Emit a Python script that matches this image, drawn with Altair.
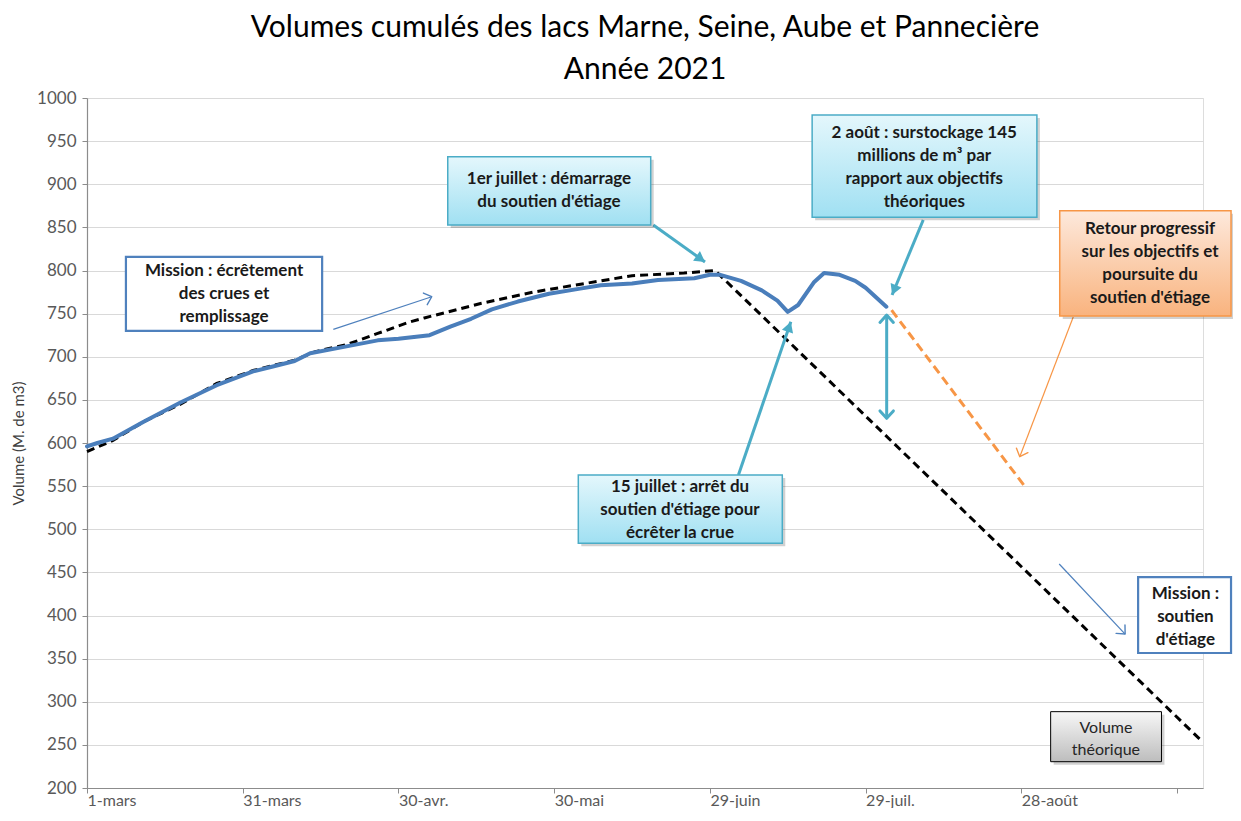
import math
import altair as alt
import pandas as pd

# ---------------- data ----------------
reel_dates = ["2021-03-01", "2021-03-03", "2021-03-06", "2021-03-12", "2021-03-19", "2021-03-26",
              "2021-04-02", "2021-04-06", "2021-04-10", "2021-04-13", "2021-04-20", "2021-04-26",
              "2021-04-30", "2021-05-06", "2021-05-10", "2021-05-14", "2021-05-18", "2021-05-23",
              "2021-05-29", "2021-06-04", "2021-06-08", "2021-06-14", "2021-06-19", "2021-06-26",
              "2021-06-29", "2021-07-01", "2021-07-05", "2021-07-09", "2021-07-12", "2021-07-14",
              "2021-07-16", "2021-07-19", "2021-07-21", "2021-07-24", "2021-07-27", "2021-07-29",
              "2021-08-02"]
reel_values = [596, 600, 605, 625, 647, 667, 683, 689, 695, 704, 712, 719, 721, 725, 735, 744,
               755, 764, 773, 779, 783, 785, 789, 791, 795, 795, 788, 777, 765, 752, 760, 786,
               797, 795, 788, 780, 758]

theo_dates = ["2021-03-01", "2021-03-06", "2021-03-12", "2021-03-19", "2021-03-26", "2021-04-02",
              "2021-04-10", "2021-04-14", "2021-04-20", "2021-04-26", "2021-05-02", "2021-05-05",
              "2021-05-16", "2021-05-26", "2021-06-05", "2021-06-14", "2021-06-24", "2021-06-30",
              "2021-10-02"]
theo_values = [590, 603, 625, 645, 669, 684, 696, 706, 714, 727, 740, 745, 762, 775, 785, 794,
               797, 800, 253]

retour_dates = ["2021-08-03", "2021-08-29"]
retour_values = [754, 547]

tick_dates = ["2021-03-01", "2021-03-31", "2021-04-30", "2021-05-30", "2021-06-29",
              "2021-07-29", "2021-08-28", "2021-09-27"]
y_ticks = list(range(200, 1001, 50))

title_lines = ["Volumes cumulés des lacs Marne, Seine, Aube et Pannecière", "Année 2021"]
y_title = "Volume (M. de m3)"

# annotation boxes: (text, day_x1, day_x2, val_y1, val_y2, day_text, val_text, style)
boxes = [
    ("Mission : écrêtement\ndes crues et\nremplissage", 7.5, 45.3, 729.9, 815.7, 26.4, 772.8, "white"),
    ("1er juillet : démarrage\ndu soutien d'étiage", 69.5, 108.6, 852.8, 932.0, 89.0, 892.5, "cyan"),
    ("2 août  : surstockage 145\nmillions de m³  par\nrapport aux objectifs\nthéoriques",
     139.7, 183.0, 861.7, 980.3, 161.3, 920.0, "cyan"),
    ("Retour progressif\nsur les objectifs et\npoursuite du\nsoutien d'étiage",
     187.4, 220.4, 747.2, 869.3, 204.8, 808.4, "orange"),
    ("15 juillet : arrêt du\nsoutien d'étiage pour\nécrêter la crue", 94.65, 133.95, 483.7, 562.9,
     114.25, 522.3, "cyan"),
    ("Mission :\nsoutien\nd'étiage", 202.5, 220.4, 356.5, 444.6, 211.6, 398.2, "white"),
    ("Volume\nthéorique", 185.65, 207.0, 230.5, 288.5, 196.3, 257.2, "gray"),
]

# arrows: (day_start, val_start, day_end, val_end, style, double)
arrows = [
    (47.45, 731.8, 66.41, 769.6, "thinblue", False),
    (109.1, 852.8, 119.06, 809.9, "teal", False),
    (161.1, 858.6, 155.1, 771.6, "teal", False),
    (190.0, 746.0, 179.7, 584.1, "thinorange", False),
    (125.5, 562.9, 135.6, 740.6, "teal", False),
    (154.06, 628.6, 154.06, 748.4, "tealdouble", True),
    (187.3, 459.7, 200.0, 378.5, "thinblue", False),
]

# ---------------- layout / helpers ----------------
PLOT_W, PLOT_H = 1116, 690
START = pd.Timestamp("2021-03-01")
N_DAYS = 215
PX_DAY = PLOT_W / N_DAYS
PX_VAL = PLOT_H / 800.0
FONT = "Lato"
BOX_FS = 17
BOX_LH = 23


def iso(day):
    return (START + pd.Timedelta(days=day)).strftime("%Y-%m-%dT%H:%M:%SZ")


def iso_date(s):
    return s + "T00:00:00Z"


def dt(s):
    y, m, d = s.split("-")
    return alt.DateTime(year=int(y), month=int(m), date=int(d), utc=True)


xscale = alt.Scale(type="utc", domain=[dt("2021-03-01"), dt("2021-10-02")], nice=False)
yscale = alt.Scale(domain=[200, 1000], nice=False, zero=False)

month_names = "['janv.','févr.','mars','avr.','mai','juin','juil.','août','sept.','oct.','nov.','déc.']"
xaxis = alt.Axis(
    values=[dt(s) for s in tick_dates],
    labelExpr="utcmonth(datum.value) == 8 ? '' : utcdate(datum.value) + '-' + "
              + month_names + "[utcmonth(datum.value)]",
    labelAlign="left", labelBaseline="alphabetic", labelPadding=12, labelOverlap=False,
    labelFont=FONT, labelFontSize=16, labelColor="#595959",
    tickSize=5, tickColor="#8c8c8c", domainColor="#8c8c8c", domainWidth=1.2,
    grid=False, title=None,
)
yaxis = alt.Axis(
    values=y_ticks, format="d", labelFont=FONT, labelFontSize=17, labelColor="#595959",
    labelPadding=6, tickSize=5, tickColor="#8c8c8c", domainColor="#8c8c8c", domainWidth=1.2,
    grid=True, gridColor="#d9d9d9", gridWidth=1.2,
    title=y_title, titleFont=FONT, titleFontSize=15, titleFontWeight="normal",
    titleColor="#404040", titlePadding=10,
)

X = alt.X("x:T", scale=xscale, axis=xaxis)
Y = alt.Y("y:Q", scale=yscale, axis=yaxis)

# ---------------- series ----------------
reel_df = pd.DataFrame({"x": [iso_date(d) for d in reel_dates], "y": reel_values})
theo_df = pd.DataFrame({"x": [iso_date(d) for d in theo_dates], "y": theo_values})
retour_df = pd.DataFrame({"x": [iso_date(d) for d in retour_dates], "y": retour_values})

theo_line = alt.Chart(theo_df).mark_line(
    color="#000000", strokeWidth=3, strokeDash=[8, 5]
).encode(x=X, y=Y)
reel_line = alt.Chart(reel_df).mark_line(
    color="#4a7ebb", strokeWidth=4, strokeJoin="round", strokeCap="round"
).encode(x=X, y=Y)
retour_line = alt.Chart(retour_df).mark_line(
    color="#f79646", strokeWidth=3, strokeDash=[9, 5]
).encode(x=X, y=Y)

# ---------------- annotation boxes ----------------
box_styles = {
    "white": dict(fill="#ffffff", stroke="#4f81bd", strokeWidth=2.2, shadow=False),
    "cyan": dict(fill=alt.Gradient(gradient="linear", x1=0, y1=0, x2=0, y2=1,
                                   stops=[alt.GradientStop(offset=0, color="#e4f7fc"),
                                          alt.GradientStop(offset=1, color="#a0e0f2")]),
                 stroke="#4bacc6", strokeWidth=1.5, shadow=True),
    "orange": dict(fill=alt.Gradient(gradient="linear", x1=0, y1=0, x2=0, y2=1,
                                     stops=[alt.GradientStop(offset=0, color="#fde9dc"),
                                            alt.GradientStop(offset=1, color="#f9b37e")]),
                   stroke="#f79646", strokeWidth=1.5, shadow=True),
    "gray": dict(fill=alt.Gradient(gradient="linear", x1=0, y1=0, x2=0, y2=1,
                                   stops=[alt.GradientStop(offset=0, color="#f7f7f7"),
                                          alt.GradientStop(offset=1, color="#bdbdbd")]),
                 stroke="#000000", strokeWidth=1, shadow=True),
}

layers = [theo_line, reel_line, retour_line]

box_layers = []
text_layers = []
for text, bx1, bx2, by1, by2, tx, ty, style in boxes:
    st = box_styles[style]
    bdf = pd.DataFrame({"x": [iso(bx1)], "x2": [iso(bx2)], "y": [by1], "y2": [by2]})
    if st["shadow"]:
        box_layers.append(
            alt.Chart(bdf).mark_rect(fill="#000000", opacity=0.18, xOffset=3, x2Offset=3,
                                     yOffset=3, y2Offset=3)
            .encode(x=X, x2="x2:T", y=Y, y2="y2:Q"))
    box_layers.append(
        alt.Chart(bdf).mark_rect(fill=st["fill"], stroke=st["stroke"], strokeWidth=st["strokeWidth"])
        .encode(x=X, x2="x2:T", y=Y, y2="y2:Q"))
    tdf = pd.DataFrame({"x": [iso(tx)], "y": [ty], "t": [text]})
    bold = style != "gray"
    n_lines = text.count("\n") + 1
    text_layers.append(
        alt.Chart(tdf).mark_text(
            font=FONT, fontSize=BOX_FS if bold else 16, fontWeight="bold" if bold else "normal",
            color="#1a1a1a" if bold else "#262626", align="center", baseline="middle",
            lineBreak="\n", lineHeight=BOX_LH if bold else 22,
            dy=-(n_lines - 1) * (BOX_LH if bold else 22) / 2)
        .encode(x=X, y=Y, text="t:N"))

# ---------------- arrows ----------------
arrow_styles = {
    "thinblue": dict(color="#4f81bd", width=1.2, head="open", size=150, hw=1.4),
    "thinorange": dict(color="#f79646", width=1.2, head="open", size=150, hw=1.4),
    "teal": dict(color="#4bacc6", width=3, head="filled", size=170, hw=3),
    "tealdouble": dict(color="#4bacc6", width=3, head="open", size=180, hw=3),
}
OPEN_PATH = "M-1,1.1L0,0L1,1.1"
FILLED_PATH = "M0,0L-0.9,1.6L0.9,1.6Z"

arrow_layers = []
for sx, sy, ex, ey, style, double in arrows:
    st = arrow_styles[style]
    rdf = pd.DataFrame({"x": [iso(sx)], "x2": [iso(ex)], "y": [sy], "y2": [ey]})
    arrow_layers.append(
        alt.Chart(rdf).mark_rule(color=st["color"], strokeWidth=st["width"], strokeCap="butt")
        .encode(x=X, x2="x2:T", y=Y, y2="y2:Q"))
    dx = (ex - sx) * PX_DAY
    dy = -(ey - sy) * PX_VAL
    ang = math.degrees(math.atan2(dx, -dy)) % 360
    heads = [(ex, ey, ang)]
    if double:
        heads.append((sx, sy, (ang + 180) % 360))
    hdf = pd.DataFrame({"x": [iso(h[0]) for h in heads], "y": [h[1] for h in heads],
                        "a": [h[2] for h in heads]})
    if st["head"] == "open":
        mk = alt.Chart(hdf).mark_point(shape=OPEN_PATH, filled=False, color=st["color"],
                                       strokeWidth=st["hw"], size=st["size"], opacity=1,
                                       strokeCap="round", strokeJoin="round")
    else:
        mk = alt.Chart(hdf).mark_point(shape=FILLED_PATH, filled=True, color=st["color"],
                                       size=st["size"], opacity=1)
    arrow_layers.append(mk.encode(x=X, y=Y, angle=alt.Angle("a:Q", scale=None)))

chart = alt.layer(*(layers + arrow_layers + box_layers + text_layers)).properties(
    width=PLOT_W, height=PLOT_H,
    title=alt.Title(text=title_lines, font=FONT, fontSize=30, fontWeight="normal",
                    color="#000000", anchor="middle", lineHeight=42, offset=4),
    autosize=alt.AutoSizeParams(type="none"),
    padding={"left": 79, "top": 90, "right": 30, "bottom": 20},
).configure_view(stroke=None).configure(background="#ffffff")

chart.save("out.html", embed_options={"renderer": "svg", "actions": False})
